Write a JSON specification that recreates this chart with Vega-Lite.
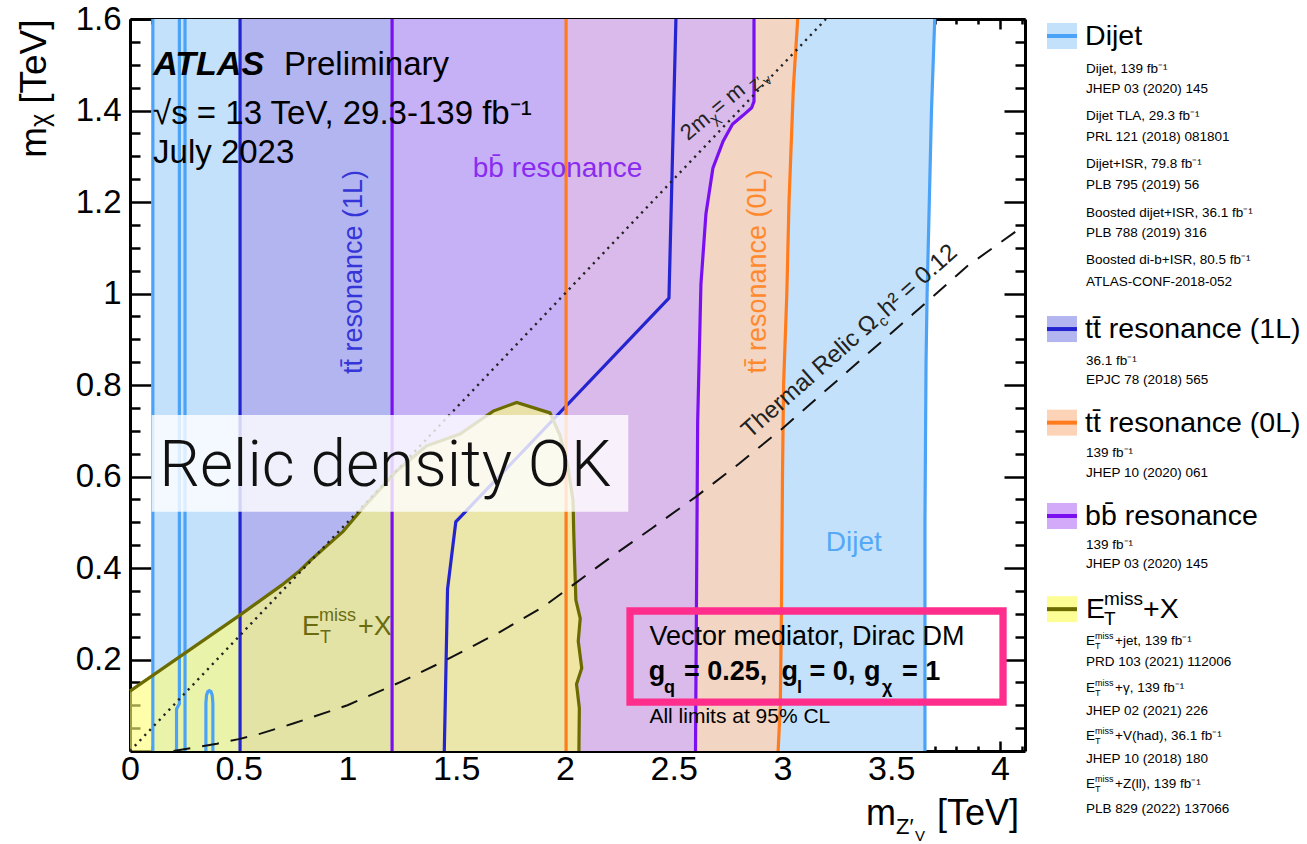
{
  "$schema": "https://vega.github.io/schema/vega-lite/v6.json",
  "background": "white",
  "padding": {"left": 15, "top": 3, "right": 0, "bottom": 0},
  "spacing": 20,
  "bounds": "flush",
  "config": {
    "view": {"stroke": null},
    "font": "Liberation Sans",
    "text": {"font": "Liberation Sans", "color": "black"},
    "axis": {"grid": false, "domainColor": "black", "domainWidth": 3, "tickColor": "black", "tickWidth": 2.5, "labelFont": "Liberation Sans", "labelColor": "black", "titleFont": "Liberation Sans", "titleColor": "black", "titleFontWeight": "normal", "zindex": 1, "labelOverlap": false, "labelFlush": false}
  },
  "datasets": {
    "poly": [
      {"poly": "dijet", "i": 0, "x": 0.105, "y": 0}, {"poly": "dijet", "i": 1, "x": 0.105, "y": 1.6}, {"poly": "dijet", "i": 2, "x": 3.70, "y": 1.6}, {"poly": "dijet", "i": 3, "x": 3.685, "y": 1.4}, {"poly": "dijet", "i": 4, "x": 3.675, "y": 1.2}, {"poly": "dijet", "i": 5, "x": 3.665, "y": 1.0}, {"poly": "dijet", "i": 6, "x": 3.66, "y": 0.85}, {"poly": "dijet", "i": 7, "x": 3.655, "y": 0.5}, {"poly": "dijet", "i": 8, "x": 3.655, "y": 0},
      {"poly": "tt1L", "i": 0, "x": 0.506, "y": 0}, {"poly": "tt1L", "i": 1, "x": 0.506, "y": 1.6}, {"poly": "tt1L", "i": 2, "x": 2.51, "y": 1.6}, {"poly": "tt1L", "i": 3, "x": 2.478, "y": 0.99}, {"poly": "tt1L", "i": 4, "x": 1.498, "y": 0.501}, {"poly": "tt1L", "i": 5, "x": 1.46, "y": 0.354}, {"poly": "tt1L", "i": 6, "x": 1.445, "y": 0},
      {"poly": "tt0L", "i": 0, "x": 2.005, "y": 0}, {"poly": "tt0L", "i": 1, "x": 2.005, "y": 1.6}, {"poly": "tt0L", "i": 2, "x": 3.07, "y": 1.6}, {"poly": "tt0L", "i": 3, "x": 3.05, "y": 1.45}, {"poly": "tt0L", "i": 4, "x": 3.03, "y": 1.2}, {"poly": "tt0L", "i": 5, "x": 3.02, "y": 1.0}, {"poly": "tt0L", "i": 6, "x": 3.005, "y": 0.8}, {"poly": "tt0L", "i": 7, "x": 3.0, "y": 0.6}, {"poly": "tt0L", "i": 8, "x": 2.995, "y": 0.3}, {"poly": "tt0L", "i": 9, "x": 2.99, "y": 0.1}, {"poly": "tt0L", "i": 10, "x": 2.98, "y": 0},
      {"poly": "bb", "i": 0, "x": 1.205, "y": 0}, {"poly": "bb", "i": 1, "x": 1.205, "y": 1.6}, {"poly": "bb", "i": 2, "x": 2.869, "y": 1.6}, {"poly": "bb", "i": 3, "x": 2.869, "y": 1.42}, {"poly": "bb", "i": 4, "x": 2.858, "y": 1.406}, {"poly": "bb", "i": 5, "x": 2.82, "y": 1.39}, {"poly": "bb", "i": 6, "x": 2.77, "y": 1.37}, {"poly": "bb", "i": 7, "x": 2.727, "y": 1.333}, {"poly": "bb", "i": 8, "x": 2.68, "y": 1.274}, {"poly": "bb", "i": 9, "x": 2.648, "y": 1.174}, {"poly": "bb", "i": 10, "x": 2.625, "y": 1.02}, {"poly": "bb", "i": 11, "x": 2.61, "y": 0.72}, {"poly": "bb", "i": 12, "x": 2.60, "y": 0},
      {"poly": "met", "i": 0, "x": 0, "y": 0}, {"poly": "met", "i": 1, "x": 0, "y": 0.131}, {"poly": "met", "i": 2, "x": 0.502, "y": 0.296}, {"poly": "met", "i": 3, "x": 0.696, "y": 0.362}, {"poly": "met", "i": 4, "x": 0.773, "y": 0.391}, {"poly": "met", "i": 5, "x": 0.83, "y": 0.417}, {"poly": "met", "i": 6, "x": 0.98, "y": 0.48}, {"poly": "met", "i": 7, "x": 1.063, "y": 0.527}, {"poly": "met", "i": 8, "x": 1.226, "y": 0.612}, {"poly": "met", "i": 9, "x": 1.364, "y": 0.667}, {"poly": "met", "i": 10, "x": 1.517, "y": 0.693}, {"poly": "met", "i": 11, "x": 1.67, "y": 0.743}, {"poly": "met", "i": 12, "x": 1.778, "y": 0.762}, {"poly": "met", "i": 13, "x": 1.931, "y": 0.739}, {"poly": "met", "i": 14, "x": 1.977, "y": 0.69}, {"poly": "met", "i": 15, "x": 2.014, "y": 0.62}, {"poly": "met", "i": 16, "x": 2.037, "y": 0.547}, {"poly": "met", "i": 17, "x": 2.04, "y": 0.48}, {"poly": "met", "i": 18, "x": 2.05, "y": 0.33}, {"poly": "met", "i": 19, "x": 2.07, "y": 0.29}, {"poly": "met", "i": 20, "x": 2.061, "y": 0.24}, {"poly": "met", "i": 21, "x": 2.077, "y": 0.181}, {"poly": "met", "i": 22, "x": 2.053, "y": 0.146}, {"poly": "met", "i": 23, "x": 2.066, "y": 0.094}, {"poly": "met", "i": 24, "x": 2.064, "y": 0}
    ],
    "lines": [
      {"seg": "dj1", "grp": "dijet", "i": 0, "x": 0.105, "y": 0}, {"seg": "dj1", "grp": "dijet", "i": 1, "x": 0.105, "y": 1.6},
      {"seg": "dj2", "grp": "dijet", "i": 0, "x": 0.227, "y": 1.6}, {"seg": "dj2", "grp": "dijet", "i": 1, "x": 0.227, "y": 0.103}, {"seg": "dj2", "grp": "dijet", "i": 2, "x": 0.214, "y": 0.092}, {"seg": "dj2", "grp": "dijet", "i": 3, "x": 0.214, "y": 0},
      {"seg": "dj3", "grp": "dijet", "i": 0, "x": 0.253, "y": 0}, {"seg": "dj3", "grp": "dijet", "i": 1, "x": 0.253, "y": 1.6},
      {"seg": "dj4", "grp": "dijet", "i": 0, "x": 0.349, "y": 0}, {"seg": "dj4", "grp": "dijet", "i": 1, "x": 0.349, "y": 0.105}, {"seg": "dj4", "grp": "dijet", "i": 2, "x": 0.352, "y": 0.122}, {"seg": "dj4", "grp": "dijet", "i": 3, "x": 0.358, "y": 0.13}, {"seg": "dj4", "grp": "dijet", "i": 4, "x": 0.365, "y": 0.132}, {"seg": "dj4", "grp": "dijet", "i": 5, "x": 0.372, "y": 0.13}, {"seg": "dj4", "grp": "dijet", "i": 6, "x": 0.378, "y": 0.122}, {"seg": "dj4", "grp": "dijet", "i": 7, "x": 0.381, "y": 0.105}, {"seg": "dj4", "grp": "dijet", "i": 8, "x": 0.381, "y": 0},
      {"seg": "dj5", "grp": "dijet", "i": 0, "x": 3.655, "y": 0}, {"seg": "dj5", "grp": "dijet", "i": 1, "x": 3.655, "y": 0.5}, {"seg": "dj5", "grp": "dijet", "i": 2, "x": 3.66, "y": 0.85}, {"seg": "dj5", "grp": "dijet", "i": 3, "x": 3.665, "y": 1.0}, {"seg": "dj5", "grp": "dijet", "i": 4, "x": 3.675, "y": 1.2}, {"seg": "dj5", "grp": "dijet", "i": 5, "x": 3.685, "y": 1.4}, {"seg": "dj5", "grp": "dijet", "i": 6, "x": 3.70, "y": 1.6},
      {"seg": "t1a", "grp": "tt1L", "i": 0, "x": 0.506, "y": 0}, {"seg": "t1a", "grp": "tt1L", "i": 1, "x": 0.506, "y": 1.6},
      {"seg": "t1b", "grp": "tt1L", "i": 0, "x": 2.51, "y": 1.6}, {"seg": "t1b", "grp": "tt1L", "i": 1, "x": 2.478, "y": 0.99}, {"seg": "t1b", "grp": "tt1L", "i": 2, "x": 1.498, "y": 0.501}, {"seg": "t1b", "grp": "tt1L", "i": 3, "x": 1.46, "y": 0.354}, {"seg": "t1b", "grp": "tt1L", "i": 4, "x": 1.445, "y": 0},
      {"seg": "t0a", "grp": "tt0L", "i": 0, "x": 2.005, "y": 0}, {"seg": "t0a", "grp": "tt0L", "i": 1, "x": 2.005, "y": 1.6},
      {"seg": "t0b", "grp": "tt0L", "i": 0, "x": 3.07, "y": 1.6}, {"seg": "t0b", "grp": "tt0L", "i": 1, "x": 3.05, "y": 1.45}, {"seg": "t0b", "grp": "tt0L", "i": 2, "x": 3.03, "y": 1.2}, {"seg": "t0b", "grp": "tt0L", "i": 3, "x": 3.02, "y": 1.0}, {"seg": "t0b", "grp": "tt0L", "i": 4, "x": 3.005, "y": 0.8}, {"seg": "t0b", "grp": "tt0L", "i": 5, "x": 3.0, "y": 0.6}, {"seg": "t0b", "grp": "tt0L", "i": 6, "x": 2.995, "y": 0.3}, {"seg": "t0b", "grp": "tt0L", "i": 7, "x": 2.99, "y": 0.1}, {"seg": "t0b", "grp": "tt0L", "i": 8, "x": 2.98, "y": 0},
      {"seg": "bba", "grp": "bb", "i": 0, "x": 1.205, "y": 0}, {"seg": "bba", "grp": "bb", "i": 1, "x": 1.205, "y": 1.6},
      {"seg": "bbb", "grp": "bb", "i": 0, "x": 2.869, "y": 1.6}, {"seg": "bbb", "grp": "bb", "i": 1, "x": 2.869, "y": 1.42}, {"seg": "bbb", "grp": "bb", "i": 2, "x": 2.858, "y": 1.406}, {"seg": "bbb", "grp": "bb", "i": 3, "x": 2.82, "y": 1.39}, {"seg": "bbb", "grp": "bb", "i": 4, "x": 2.77, "y": 1.37}, {"seg": "bbb", "grp": "bb", "i": 5, "x": 2.727, "y": 1.333}, {"seg": "bbb", "grp": "bb", "i": 6, "x": 2.68, "y": 1.274}, {"seg": "bbb", "grp": "bb", "i": 7, "x": 2.648, "y": 1.174}, {"seg": "bbb", "grp": "bb", "i": 8, "x": 2.625, "y": 1.02}, {"seg": "bbb", "grp": "bb", "i": 9, "x": 2.61, "y": 0.72}, {"seg": "bbb", "grp": "bb", "i": 10, "x": 2.60, "y": 0},
      {"seg": "met", "grp": "met", "i": 1, "x": 0, "y": 0.131}, {"seg": "met", "grp": "met", "i": 2, "x": 0.502, "y": 0.296}, {"seg": "met", "grp": "met", "i": 3, "x": 0.696, "y": 0.362}, {"seg": "met", "grp": "met", "i": 4, "x": 0.773, "y": 0.391}, {"seg": "met", "grp": "met", "i": 5, "x": 0.83, "y": 0.417}, {"seg": "met", "grp": "met", "i": 6, "x": 0.98, "y": 0.48}, {"seg": "met", "grp": "met", "i": 7, "x": 1.063, "y": 0.527}, {"seg": "met", "grp": "met", "i": 8, "x": 1.226, "y": 0.612}, {"seg": "met", "grp": "met", "i": 9, "x": 1.364, "y": 0.667}, {"seg": "met", "grp": "met", "i": 10, "x": 1.517, "y": 0.693}, {"seg": "met", "grp": "met", "i": 11, "x": 1.67, "y": 0.743}, {"seg": "met", "grp": "met", "i": 12, "x": 1.778, "y": 0.762}, {"seg": "met", "grp": "met", "i": 13, "x": 1.931, "y": 0.739}, {"seg": "met", "grp": "met", "i": 14, "x": 1.977, "y": 0.69}, {"seg": "met", "grp": "met", "i": 15, "x": 2.014, "y": 0.62}, {"seg": "met", "grp": "met", "i": 16, "x": 2.037, "y": 0.547}, {"seg": "met", "grp": "met", "i": 17, "x": 2.04, "y": 0.48}, {"seg": "met", "grp": "met", "i": 18, "x": 2.05, "y": 0.33}, {"seg": "met", "grp": "met", "i": 19, "x": 2.07, "y": 0.29}, {"seg": "met", "grp": "met", "i": 20, "x": 2.061, "y": 0.24}, {"seg": "met", "grp": "met", "i": 21, "x": 2.077, "y": 0.181}, {"seg": "met", "grp": "met", "i": 22, "x": 2.053, "y": 0.146}, {"seg": "met", "grp": "met", "i": 23, "x": 2.066, "y": 0.094}, {"seg": "met", "grp": "met", "i": 24, "x": 2.064, "y": 0}
    ],
    "diag": [{"x": 0, "y": 0}, {"x": 3.2, "y": 1.6}],
    "relic": [
      {"x": 0.2, "y": 0}, {"x": 0.3, "y": 0.008}, {"x": 0.4, "y": 0.016}, {"x": 0.5, "y": 0.026}, {"x": 0.6, "y": 0.038}, {"x": 0.75, "y": 0.06}, {"x": 1.0, "y": 0.1}, {"x": 1.25, "y": 0.152}, {"x": 1.45, "y": 0.198}, {"x": 1.7, "y": 0.26}, {"x": 1.9, "y": 0.315}, {"x": 2.0, "y": 0.35}, {"x": 2.2, "y": 0.42}, {"x": 2.4, "y": 0.487}, {"x": 2.6, "y": 0.555}, {"x": 2.8, "y": 0.628}, {"x": 3.0, "y": 0.705}, {"x": 3.3, "y": 0.83}, {"x": 3.6, "y": 0.955}, {"x": 3.85, "y": 1.06}, {"x": 4.115, "y": 1.15}
    ],
    "sw": [
      {"grp": "dijet", "s": 0}, {"grp": "tt1L", "s": 12.21}, {"grp": "tt0L", "s": 16.11}, {"grp": "bb", "s": 20.0}, {"grp": "met", "s": 23.88}
    ],
    "heads": [
      {"t": "Dijet", "s": 0}, {"t": "tt̄ resonance (1L)", "s": 12.21}, {"t": "tt̄ resonance (0L)", "s": 16.11}, {"t": "bb̄ resonance", "s": 20.0}
    ],
    "subs": [
      {"t": "Dijet, 139 fb⁻¹", "s": 1.38}, {"t": "JHEP 03 (2020) 145", "s": 2.21}, {"t": "Dijet TLA, 29.3 fb⁻¹", "s": 3.33}, {"t": "PRL 121 (2018) 081801", "s": 4.21}, {"t": "Dijet+ISR, 79.8 fb⁻¹", "s": 5.33}, {"t": "PLB 795 (2019) 56", "s": 6.21}, {"t": "Boosted dijet+ISR, 36.1 fb⁻¹", "s": 7.38}, {"t": "PLB 788 (2019) 316", "s": 8.21}, {"t": "Boosted di-b+ISR, 80.5 fb⁻¹", "s": 9.33}, {"t": "ATLAS-CONF-2018-052", "s": 10.25},
      {"t": "36.1 fb⁻¹", "s": 13.54}, {"t": "EPJC 78 (2018) 565", "s": 14.33},
      {"t": "139 fb⁻¹", "s": 17.36}, {"t": "JHEP 10 (2020) 061", "s": 18.2},
      {"t": "139 fb⁻¹", "s": 21.21}, {"t": "JHEP 03 (2020) 145", "s": 22.0},
      {"t": "PRD 103 (2021) 112006", "s": 26.08}, {"t": "JHEP 02 (2021) 226", "s": 28.13}, {"t": "JHEP 10 (2018) 180", "s": 30.13}, {"t": "PLB 829 (2022) 137066", "s": 32.2}
    ],
    "metsub": [
      {"t": "+jet, 139 fb⁻¹", "s": 25.21}, {"t": "+γ, 139 fb⁻¹", "s": 27.17}, {"t": "+V(had), 36.1 fb⁻¹", "s": 29.17}, {"t": "+Z(ll), 139 fb⁻¹", "s": 31.17}
    ]
  },
  "hconcat": [
    {
      "width": 895,
      "height": 732,
      "resolve": {"axis": {"x": "independent", "y": "independent"}},
      "layer": [
        {
          "data": {"name": "poly"},
          "transform": [{"filter": "datum.poly == 'dijet'"}],
          "mark": {"type": "line", "fill": "#c4e1fb", "strokeWidth": 0},
          "encoding": {
            "x": {"field": "x", "type": "quantitative", "scale": {"domain": [0, 4.115], "nice": false, "zero": false},
                  "axis": {"orient": "bottom", "values": [0, 0.5, 1, 1.5, 2, 2.5, 3, 3.5, 4], "format": "~g", "tickSize": -10, "labelFontSize": 34, "labelPadding": 11, "title": null}},
            "y": {"field": "y", "type": "quantitative", "scale": {"domain": [0, 1.6], "nice": false, "zero": false},
                  "axis": {"orient": "left", "values": [0.2, 0.4, 0.6, 0.8, 1, 1.2, 1.4, 1.6], "labelExpr": "datum.value == 1 ? '1' : format(datum.value, '.1f')", "tickSize": -21, "labelFontSize": 33, "labelPadding": 30, "title": "mᵪ [TeV]", "titleFontSize": 37, "titleAnchor": "end", "titlePadding": 22}},
            "order": {"field": "i", "type": "quantitative"}
          }
        },
        {
          "data": {"name": "poly"},
          "transform": [{"filter": "datum.poly == 'tt1L'"}],
          "mark": {"type": "line", "fill": "#b2b5f0", "strokeWidth": 0},
          "encoding": {
            "x": {"field": "x", "type": "quantitative", "scale": {"domain": [0, 4.115], "nice": false, "zero": false},
                  "axis": {"orient": "bottom", "values": [0.1, 0.2, 0.3, 0.4, 0.6, 0.7, 0.8, 0.9, 1.1, 1.2, 1.3, 1.4, 1.6, 1.7, 1.8, 1.9, 2.1, 2.2, 2.3, 2.4, 2.6, 2.7, 2.8, 2.9, 3.1, 3.2, 3.3, 3.4, 3.6, 3.7, 3.8, 3.9, 4.1], "tickSize": -5, "labels": false, "domain": false, "title": null}},
            "y": {"field": "y", "type": "quantitative", "scale": {"domain": [0, 1.6], "nice": false, "zero": false},
                  "axis": {"orient": "left", "values": [0.05, 0.1, 0.15, 0.25, 0.3, 0.35, 0.45, 0.5, 0.55, 0.65, 0.7, 0.75, 0.85, 0.9, 0.95, 1.05, 1.1, 1.15, 1.25, 1.3, 1.35, 1.45, 1.5, 1.55], "tickSize": -10, "labels": false, "domain": false, "title": null}},
            "order": {"field": "i", "type": "quantitative"}
          }
        },
        {
          "data": {"name": "poly"},
          "transform": [{"filter": "datum.poly == 'tt0L'"}],
          "mark": {"type": "line", "fill": "#f3d5c4", "strokeWidth": 0},
          "encoding": {
            "x": {"field": "x", "type": "quantitative", "scale": {"domain": [0, 4.115], "nice": false, "zero": false},
                  "axis": {"orient": "top", "values": [0, 0.5, 1, 1.5, 2, 2.5, 3, 3.5, 4], "tickSize": -10, "labels": false, "title": null}},
            "y": {"field": "y", "type": "quantitative", "scale": {"domain": [0, 1.6], "nice": false, "zero": false},
                  "axis": {"orient": "right", "values": [0.2, 0.4, 0.6, 0.8, 1, 1.2, 1.4, 1.6], "tickSize": -21, "labels": false, "title": null}},
            "order": {"field": "i", "type": "quantitative"}
          }
        },
        {
          "data": {"name": "poly"},
          "transform": [{"filter": "datum.poly == 'bb'"}],
          "mark": {"type": "line", "fill": "#cdaef9", "fillOpacity": 0.71, "strokeWidth": 0},
          "encoding": {
            "x": {"field": "x", "type": "quantitative", "scale": {"domain": [0, 4.115], "nice": false, "zero": false},
                  "axis": {"orient": "top", "values": [0.1, 0.2, 0.3, 0.4, 0.6, 0.7, 0.8, 0.9, 1.1, 1.2, 1.3, 1.4, 1.6, 1.7, 1.8, 1.9, 2.1, 2.2, 2.3, 2.4, 2.6, 2.7, 2.8, 2.9, 3.1, 3.2, 3.3, 3.4, 3.6, 3.7, 3.8, 3.9, 4.1], "tickSize": -5, "labels": false, "domain": false, "title": null}},
            "y": {"field": "y", "type": "quantitative", "scale": {"domain": [0, 1.6], "nice": false, "zero": false},
                  "axis": {"orient": "right", "values": [0.05, 0.1, 0.15, 0.25, 0.3, 0.35, 0.45, 0.5, 0.55, 0.65, 0.7, 0.75, 0.85, 0.9, 0.95, 1.05, 1.1, 1.15, 1.25, 1.3, 1.35, 1.45, 1.5, 1.55], "tickSize": -10, "labels": false, "domain": false, "title": null}},
            "order": {"field": "i", "type": "quantitative"}
          }
        },
        {
          "data": {"name": "poly"},
          "transform": [{"filter": "datum.poly == 'met'"}],
          "mark": {"type": "line", "fill": "#ffff78", "fillOpacity": 0.62, "strokeWidth": 0},
          "encoding": {
            "x": {"field": "x", "type": "quantitative", "scale": {"domain": [0, 4.115], "nice": false, "zero": false}, "axis": null},
            "y": {"field": "y", "type": "quantitative", "scale": {"domain": [0, 1.6], "nice": false, "zero": false}, "axis": null},
            "order": {"field": "i", "type": "quantitative"}
          }
        },
        {
          "data": {"name": "lines"},
          "mark": {"type": "line"},
          "encoding": {
            "x": {"field": "x", "type": "quantitative", "scale": {"domain": [0, 4.115], "nice": false, "zero": false}, "axis": null},
            "y": {"field": "y", "type": "quantitative", "scale": {"domain": [0, 1.6], "nice": false, "zero": false}, "axis": null},
            "detail": {"field": "seg", "type": "nominal"},
            "color": {"field": "grp", "type": "nominal", "scale": {"domain": ["dijet", "tt1L", "tt0L", "bb", "met"], "range": ["#4ba3f7", "#2424d0", "#ff7b1c", "#7a10f0", "#6b6b00"]}, "legend": null},
            "strokeWidth": {"field": "grp", "type": "nominal", "scale": {"domain": ["dijet", "tt1L", "tt0L", "bb", "met"], "range": [3.2, 3.2, 3.2, 3.2, 4.5]}, "legend": null},
            "order": {"field": "i", "type": "quantitative"}
          }
        },
        {
          "data": {"name": "diag"},
          "mark": {"type": "line", "color": "#222222", "strokeWidth": 2.4, "strokeDash": [2.2, 4.8]},
          "encoding": {
            "x": {"field": "x", "type": "quantitative", "scale": {"domain": [0, 4.115], "nice": false, "zero": false}, "axis": null},
            "y": {"field": "y", "type": "quantitative", "scale": {"domain": [0, 1.6], "nice": false, "zero": false}, "axis": null}
          }
        },
        {
          "data": {"name": "relic"},
          "mark": {"type": "line", "color": "#111111", "strokeWidth": 2, "strokeDash": [17, 12]},
          "encoding": {
            "x": {"field": "x", "type": "quantitative", "scale": {"domain": [0, 4.115], "nice": false, "zero": false}, "axis": null},
            "y": {"field": "y", "type": "quantitative", "scale": {"domain": [0, 1.6], "nice": false, "zero": false}, "axis": null}
          }
        },
        {
          "data": {"values": [{"x": 0.0996, "x2": 2.291, "y": 0.523, "y2": 0.7344}]},
          "mark": {"type": "rect", "fill": "white", "fillOpacity": 0.8, "strokeWidth": 0},
          "encoding": {
            "x": {"field": "x", "type": "quantitative", "scale": {"domain": [0, 4.115], "nice": false, "zero": false}, "axis": null},
            "x2": {"field": "x2"},
            "y": {"field": "y", "type": "quantitative", "scale": {"domain": [0, 1.6], "nice": false, "zero": false}, "axis": null},
            "y2": {"field": "y2"}
          }
        },
        {
          "data": {"values": [{"x": 2.299, "x2": 4.014, "y": 0.107, "y2": 0.306}]},
          "mark": {"type": "rect", "fillOpacity": 0, "stroke": "#ff2e8c", "strokeWidth": 7.3},
          "encoding": {
            "x": {"field": "x", "type": "quantitative", "scale": {"domain": [0, 4.115], "nice": false, "zero": false}, "axis": null},
            "x2": {"field": "x2"},
            "y": {"field": "y", "type": "quantitative", "scale": {"domain": [0, 1.6], "nice": false, "zero": false}, "axis": null},
            "y2": {"field": "y2"}
          }
        },
        {
          "data": {"values": [{"t": "ATLAS", "x": 0.107, "y": 1.4776}]},
          "mark": {"type": "text", "fontSize": 34, "fontWeight": "bold", "fontStyle": "italic", "align": "left", "baseline": "alphabetic"},
          "encoding": {
            "x": {"field": "x", "type": "quantitative", "scale": {"domain": [0, 4.115], "nice": false, "zero": false}, "axis": null},
            "y": {"field": "y", "type": "quantitative", "scale": {"domain": [0, 1.6], "nice": false, "zero": false}, "axis": null},
            "text": {"field": "t"}
          }
        },
        {
          "data": {"values": [{"t": "Preliminary", "x": 0.708, "y": 1.4776}, {"t": "√s = 13 TeV, 29.3-139 fb⁻¹", "x": 0.106, "y": 1.371}, {"t": "July 2023", "x": 0.106, "y": 1.286}]},
          "mark": {"type": "text", "fontSize": 33, "align": "left", "baseline": "alphabetic"},
          "encoding": {
            "x": {"field": "x", "type": "quantitative", "scale": {"domain": [0, 4.115], "nice": false, "zero": false}, "axis": null},
            "y": {"field": "y", "type": "quantitative", "scale": {"domain": [0, 1.6], "nice": false, "zero": false}, "axis": null},
            "text": {"field": "t"}
          }
        },
        {
          "data": {"values": [{"t": "Relic density OK", "x": 0.135, "y": 0.579}]},
          "mark": {"type": "text", "font": "Roboto", "fontWeight": 300, "fontSize": 64, "align": "left", "baseline": "alphabetic", "color": "#111111"},
          "encoding": {
            "x": {"field": "x", "type": "quantitative", "scale": {"domain": [0, 4.115], "nice": false, "zero": false}, "axis": null},
            "y": {"field": "y", "type": "quantitative", "scale": {"domain": [0, 1.6], "nice": false, "zero": false}, "axis": null},
            "text": {"field": "t"}
          }
        },
        {
          "data": {"values": [{"t": "Vector mediator, Dirac DM", "x": 2.388, "y": 0.2317}]},
          "mark": {"type": "text", "fontSize": 27, "align": "left", "baseline": "alphabetic"},
          "encoding": {
            "x": {"field": "x", "type": "quantitative", "scale": {"domain": [0, 4.115], "nice": false, "zero": false}, "axis": null},
            "y": {"field": "y", "type": "quantitative", "scale": {"domain": [0, 1.6], "nice": false, "zero": false}, "axis": null},
            "text": {"field": "t"}
          }
        },
        {
          "data": {"values": [{"t": "g", "x": 2.3853, "y": 0.1552}, {"t": "= 0.25,", "x": 2.5471, "y": 0.1552}, {"t": "g", "x": 2.9954, "y": 0.1552}, {"t": "= 0,", "x": 3.1246, "y": 0.1552}, {"t": "g", "x": 3.3747, "y": 0.1552}, {"t": "= 1", "x": 3.5494, "y": 0.1552}]},
          "mark": {"type": "text", "fontSize": 27, "fontWeight": "bold", "align": "left", "baseline": "alphabetic"},
          "encoding": {
            "x": {"field": "x", "type": "quantitative", "scale": {"domain": [0, 4.115], "nice": false, "zero": false}, "axis": null},
            "y": {"field": "y", "type": "quantitative", "scale": {"domain": [0, 1.6], "nice": false, "zero": false}, "axis": null},
            "text": {"field": "t"}
          }
        },
        {
          "data": {"values": [{"t": "q", "x": 2.4552, "y": 0.1268}, {"t": "l", "x": 3.067, "y": 0.1268}, {"t": "χ", "x": 3.4575, "y": 0.1268}]},
          "mark": {"type": "text", "fontSize": 18, "fontWeight": "bold", "align": "left", "baseline": "alphabetic"},
          "encoding": {
            "x": {"field": "x", "type": "quantitative", "scale": {"domain": [0, 4.115], "nice": false, "zero": false}, "axis": null},
            "y": {"field": "y", "type": "quantitative", "scale": {"domain": [0, 1.6], "nice": false, "zero": false}, "axis": null},
            "text": {"field": "t"}
          }
        },
        {
          "data": {"values": [{"t": "All limits at 95% CL", "x": 2.388, "y": 0.0616}]},
          "mark": {"type": "text", "fontSize": 21, "align": "left", "baseline": "alphabetic"},
          "encoding": {
            "x": {"field": "x", "type": "quantitative", "scale": {"domain": [0, 4.115], "nice": false, "zero": false}, "axis": null},
            "y": {"field": "y", "type": "quantitative", "scale": {"domain": [0, 1.6], "nice": false, "zero": false}, "axis": null},
            "text": {"field": "t"}
          }
        },
        {
          "data": {"values": [{"t": "tt̄ resonance (1L)", "x": 1.032, "y": 1.047}]},
          "mark": {"type": "text", "fontSize": 27, "angle": 270, "align": "center", "baseline": "middle", "color": "#3535d8"},
          "encoding": {
            "x": {"field": "x", "type": "quantitative", "scale": {"domain": [0, 4.115], "nice": false, "zero": false}, "axis": null},
            "y": {"field": "y", "type": "quantitative", "scale": {"domain": [0, 1.6], "nice": false, "zero": false}, "axis": null},
            "text": {"field": "t"}
          }
        },
        {
          "data": {"values": [{"t": "tt̄ resonance (0L)", "x": 2.887, "y": 1.048}]},
          "mark": {"type": "text", "fontSize": 27, "angle": 270, "align": "center", "baseline": "middle", "color": "#ff8a2e"},
          "encoding": {
            "x": {"field": "x", "type": "quantitative", "scale": {"domain": [0, 4.115], "nice": false, "zero": false}, "axis": null},
            "y": {"field": "y", "type": "quantitative", "scale": {"domain": [0, 1.6], "nice": false, "zero": false}, "axis": null},
            "text": {"field": "t"}
          }
        },
        {
          "data": {"values": [{"t": "bb̄ resonance", "x": 1.966, "y": 1.2546}]},
          "mark": {"type": "text", "fontSize": 28, "align": "center", "baseline": "alphabetic", "color": "#8a2cf0"},
          "encoding": {
            "x": {"field": "x", "type": "quantitative", "scale": {"domain": [0, 4.115], "nice": false, "zero": false}, "axis": null},
            "y": {"field": "y", "type": "quantitative", "scale": {"domain": [0, 1.6], "nice": false, "zero": false}, "axis": null},
            "text": {"field": "t"}
          }
        },
        {
          "data": {"values": [{"t": "Dijet", "x": 3.328, "y": 0.437}]},
          "mark": {"type": "text", "fontSize": 28, "align": "center", "baseline": "alphabetic", "color": "#55a8f6"},
          "encoding": {
            "x": {"field": "x", "type": "quantitative", "scale": {"domain": [0, 4.115], "nice": false, "zero": false}, "axis": null},
            "y": {"field": "y", "type": "quantitative", "scale": {"domain": [0, 1.6], "nice": false, "zero": false}, "axis": null},
            "text": {"field": "t"}
          }
        },
        {
          "data": {"values": [{"t": "E", "x": 0.791, "y": 0.2535}, {"t": "+X", "x": 1.048, "y": 0.2535}]},
          "mark": {"type": "text", "fontSize": 27, "align": "left", "baseline": "alphabetic", "color": "#6b6b10"},
          "encoding": {
            "x": {"field": "x", "type": "quantitative", "scale": {"domain": [0, 4.115], "nice": false, "zero": false}, "axis": null},
            "y": {"field": "y", "type": "quantitative", "scale": {"domain": [0, 1.6], "nice": false, "zero": false}, "axis": null},
            "text": {"field": "t"}
          }
        },
        {
          "data": {"values": [{"t": "miss", "x": 0.869, "y": 0.285}, {"t": "T", "x": 0.874, "y": 0.236}]},
          "mark": {"type": "text", "fontSize": 18, "align": "left", "baseline": "alphabetic", "color": "#6b6b10"},
          "encoding": {
            "x": {"field": "x", "type": "quantitative", "scale": {"domain": [0, 4.115], "nice": false, "zero": false}, "axis": null},
            "y": {"field": "y", "type": "quantitative", "scale": {"domain": [0, 1.6], "nice": false, "zero": false}, "axis": null},
            "text": {"field": "t"}
          }
        },
        {
          "data": {"values": [{"x": 2.566, "y": 1.333}]},
          "layer": [
            {"mark": {"type": "text", "text": "2m", "fontSize": 22, "angle": 320, "align": "left", "baseline": "alphabetic", "color": "#222222"}},
            {"mark": {"type": "text", "text": "χ", "fontSize": 15, "angle": 320, "align": "left", "baseline": "alphabetic", "dx": 31, "dy": 5, "color": "#222222"}},
            {"mark": {"type": "text", "text": " = m", "fontSize": 22, "angle": 320, "align": "left", "baseline": "alphabetic", "dx": 39, "color": "#222222"}},
            {"mark": {"type": "text", "text": "Z′", "fontSize": 15, "angle": 320, "align": "left", "baseline": "alphabetic", "dx": 83, "dy": 5, "color": "#222222"}},
            {"mark": {"type": "text", "text": "V", "fontSize": 11, "angle": 320, "align": "left", "baseline": "alphabetic", "dx": 96, "dy": 9, "color": "#222222"}}
          ],
          "encoding": {
            "x": {"field": "x", "type": "quantitative", "scale": {"domain": [0, 4.115], "nice": false, "zero": false}, "axis": null},
            "y": {"field": "y", "type": "quantitative", "scale": {"domain": [0, 1.6], "nice": false, "zero": false}, "axis": null}
          }
        },
        {
          "data": {"values": [{"x": 2.851, "y": 0.682}]},
          "layer": [
            {"mark": {"type": "text", "text": "Thermal Relic Ω", "fontSize": 24, "angle": 318.5, "align": "left", "baseline": "alphabetic", "color": "#222222"}},
            {"mark": {"type": "text", "text": "c", "fontSize": 15, "angle": 318.5, "align": "left", "baseline": "alphabetic", "dx": 174, "dy": 5, "color": "#222222"}},
            {"mark": {"type": "text", "text": "h² = 0.12", "fontSize": 24, "angle": 318.5, "align": "left", "baseline": "alphabetic", "dx": 183, "color": "#222222"}}
          ],
          "encoding": {
            "x": {"field": "x", "type": "quantitative", "scale": {"domain": [0, 4.115], "nice": false, "zero": false}, "axis": null},
            "y": {"field": "y", "type": "quantitative", "scale": {"domain": [0, 1.6], "nice": false, "zero": false}, "axis": null}
          }
        },
        {
          "data": {"values": [{"x": 3.384, "y": -0.162}]},
          "layer": [
            {"mark": {"type": "text", "text": "m", "fontSize": 36, "align": "left", "baseline": "alphabetic"}},
            {"mark": {"type": "text", "text": "Z′", "fontSize": 22, "align": "left", "baseline": "alphabetic", "dx": 30, "dy": 9}},
            {"mark": {"type": "text", "text": "V", "fontSize": 15, "align": "left", "baseline": "alphabetic", "dx": 49, "dy": 16}},
            {"mark": {"type": "text", "text": "[TeV]", "fontSize": 36, "align": "left", "baseline": "alphabetic", "dx": 71}}
          ],
          "encoding": {
            "x": {"field": "x", "type": "quantitative", "scale": {"domain": [0, 4.115], "nice": false, "zero": false}, "axis": null},
            "y": {"field": "y", "type": "quantitative", "scale": {"domain": [0, 1.6], "nice": false, "zero": false}, "axis": null}
          }
        }
      ]
    },
    {
      "width": 262,
      "height": 810,
      "resolve": {"scale": {"color": "independent"}},
      "layer": [
        {
          "data": {"name": "sw"},
          "mark": {"type": "rule", "strokeWidth": 26, "strokeCap": "butt"},
          "encoding": {
            "x": {"datum": 0.0076, "type": "quantitative", "scale": {"domain": [0, 1], "nice": false, "zero": false}, "axis": null},
            "x2": {"datum": 0.122},
            "y": {"field": "s", "type": "quantitative", "scale": {"domain": [-0.708, 33.04], "reverse": true, "nice": false, "zero": false}, "axis": null},
            "color": {"field": "grp", "type": "nominal", "scale": {"domain": ["dijet", "tt1L", "tt0L", "bb", "met"], "range": ["#c4e1fb", "#b2b5f0", "#fcd3b6", "#d3aaf9", "#fdfd96"]}, "legend": null}
          }
        },
        {
          "data": {"name": "sw"},
          "mark": {"type": "rule", "strokeWidth": 4, "strokeCap": "butt"},
          "encoding": {
            "x": {"datum": 0.0076, "type": "quantitative", "scale": {"domain": [0, 1], "nice": false, "zero": false}, "axis": null},
            "x2": {"datum": 0.122},
            "y": {"field": "s", "type": "quantitative", "scale": {"domain": [-0.708, 33.04], "reverse": true, "nice": false, "zero": false}, "axis": null},
            "color": {"field": "grp", "type": "nominal", "scale": {"domain": ["dijet", "tt1L", "tt0L", "bb", "met"], "range": ["#4ba3f7", "#2424d0", "#ff7b1c", "#7a10f0", "#6b6b00"]}, "legend": null}
          }
        },
        {
          "data": {"name": "heads"},
          "mark": {"type": "text", "fontSize": 28.5, "align": "left", "baseline": "middle"},
          "encoding": {
            "x": {"datum": 0.153, "type": "quantitative", "scale": {"domain": [0, 1], "nice": false, "zero": false}, "axis": null},
            "y": {"field": "s", "type": "quantitative", "scale": {"domain": [-0.708, 33.04], "reverse": true, "nice": false, "zero": false}, "axis": null},
            "text": {"field": "t"}
          }
        },
        {
          "data": {"name": "subs"},
          "mark": {"type": "text", "fontSize": 13.5, "align": "left", "baseline": "middle"},
          "encoding": {
            "x": {"datum": 0.1565, "type": "quantitative", "scale": {"domain": [0, 1], "nice": false, "zero": false}, "axis": null},
            "y": {"field": "s", "type": "quantitative", "scale": {"domain": [-0.708, 33.04], "reverse": true, "nice": false, "zero": false}, "axis": null},
            "text": {"field": "t"}
          }
        },
        {
          "data": {"name": "metsub"},
          "mark": {"type": "text", "text": "E", "fontSize": 13.5, "align": "left", "baseline": "middle"},
          "encoding": {
            "x": {"datum": 0.1565, "type": "quantitative", "scale": {"domain": [0, 1], "nice": false, "zero": false}, "axis": null},
            "y": {"field": "s", "type": "quantitative", "scale": {"domain": [-0.708, 33.04], "reverse": true, "nice": false, "zero": false}, "axis": null}
          }
        },
        {
          "data": {"name": "metsub"},
          "mark": {"type": "text", "text": "miss", "fontSize": 9, "align": "left", "baseline": "middle", "dy": -5},
          "encoding": {
            "x": {"datum": 0.1908, "type": "quantitative", "scale": {"domain": [0, 1], "nice": false, "zero": false}, "axis": null},
            "y": {"field": "s", "type": "quantitative", "scale": {"domain": [-0.708, 33.04], "reverse": true, "nice": false, "zero": false}, "axis": null}
          }
        },
        {
          "data": {"name": "metsub"},
          "mark": {"type": "text", "text": "T", "fontSize": 9, "align": "left", "baseline": "middle", "dy": 5},
          "encoding": {
            "x": {"datum": 0.1908, "type": "quantitative", "scale": {"domain": [0, 1], "nice": false, "zero": false}, "axis": null},
            "y": {"field": "s", "type": "quantitative", "scale": {"domain": [-0.708, 33.04], "reverse": true, "nice": false, "zero": false}, "axis": null}
          }
        },
        {
          "data": {"name": "metsub"},
          "mark": {"type": "text", "fontSize": 13.5, "align": "left", "baseline": "middle"},
          "encoding": {
            "x": {"datum": 0.2672, "type": "quantitative", "scale": {"domain": [0, 1], "nice": false, "zero": false}, "axis": null},
            "y": {"field": "s", "type": "quantitative", "scale": {"domain": [-0.708, 33.04], "reverse": true, "nice": false, "zero": false}, "axis": null},
            "text": {"field": "t"}
          }
        },
        {
          "data": {"values": [{"s": 23.88}]},
          "layer": [
            {"mark": {"type": "text", "text": "E", "fontSize": 28.5, "align": "left", "baseline": "middle"}, "encoding": {"x": {"datum": 0.1565, "type": "quantitative", "scale": {"domain": [0, 1], "nice": false, "zero": false}, "axis": null}}},
            {"mark": {"type": "text", "text": "miss", "fontSize": 19, "align": "left", "baseline": "middle", "dy": -10}, "encoding": {"x": {"datum": 0.2252, "type": "quantitative", "scale": {"domain": [0, 1], "nice": false, "zero": false}, "axis": null}}},
            {"mark": {"type": "text", "text": "T", "fontSize": 19, "align": "left", "baseline": "middle", "dy": 10}, "encoding": {"x": {"datum": 0.2252, "type": "quantitative", "scale": {"domain": [0, 1], "nice": false, "zero": false}, "axis": null}}},
            {"mark": {"type": "text", "text": "+X", "fontSize": 28.5, "align": "left", "baseline": "middle"}, "encoding": {"x": {"datum": 0.374, "type": "quantitative", "scale": {"domain": [0, 1], "nice": false, "zero": false}, "axis": null}}}
          ],
          "encoding": {
            "y": {"field": "s", "type": "quantitative", "scale": {"domain": [-0.708, 33.04], "reverse": true, "nice": false, "zero": false}, "axis": null}
          }
        }
      ]
    }
  ]
}
